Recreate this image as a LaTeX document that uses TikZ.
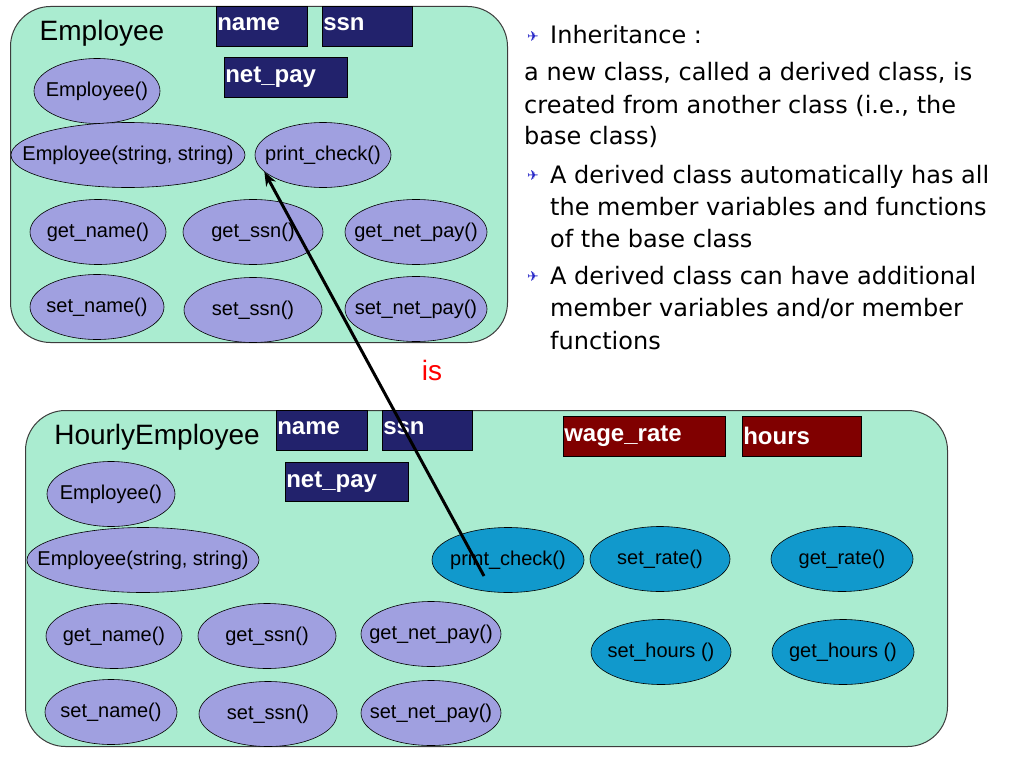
\documentclass[tikz,border=0pt]{standalone}
\usepackage{fontspec}
\setmainfont{Liberation Sans}
\newfontfamily\bodyfont{DejaVu Sans}
\usetikzlibrary{shapes.geometric,calc,arrows.meta}
\definecolor{mint}{RGB}{170,236,208}
\definecolor{lav}{RGB}{160,160,224}
\definecolor{navy}{RGB}{34,34,108}
\definecolor{maroon}{RGB}{128,0,0}
\definecolor{teal}{RGB}{17,153,204}
\definecolor{edge}{RGB}{60,60,60}
\definecolor{bul}{RGB}{40,40,200}
\newcommand{\zw}[1]{\makebox[0pt]{#1}}
\tikzset{
  panel/.style={draw=edge, fill=mint, line width=1pt, rounded corners=40pt, anchor=north west, inner sep=0pt},
  title/.style={font=\fontsize{28}{32}\selectfont, inner sep=0pt},
  field/.style={draw=black, line width=0.6pt, anchor=north west, inner sep=0pt, text=white,
    font=\fontsize{24}{28}\bfseries, align=left},
  navyfield/.style={field, fill=navy},
  redfield/.style={field, fill=maroon},
  meth/.style={ellipse, draw=black, line width=0.6pt, fill=lav, inner sep=0pt,
    font=\fontsize{20}{23}\selectfont, minimum height=65pt},
  tmeth/.style={meth, fill=teal},
  body/.style={anchor=base west, inner sep=0pt, font=\bodyfont\fontsize{24}{28}\selectfont},
  bullet/.style={inner sep=0pt, text=bul, font=\bodyfont\fontsize{14}{16}\selectfont}
}
\begin{document}
\begin{tikzpicture}[x=1pt,y=-1pt]
\useasboundingbox (0,0) rectangle (1024,768);
\fill[white] (0,0) rectangle (1024,768);

% ---------- Employee panel ----------
\node[panel, minimum width=497pt, minimum height=336pt] (emp) at (10,6) {};
\node[title] (empt) at (102,33) {Employee};
\node[navyfield, minimum width=91pt, minimum height=40pt, text width=89pt] (en) at (216,6) {\raisebox{4pt}{name}};
\node[navyfield, minimum width=90pt, minimum height=40pt, text width=88pt] (es) at (322,6) {\raisebox{4pt}{ssn}};
\node[navyfield, minimum width=123pt, minimum height=40pt, text width=121pt] (enp) at (224,57) {\raisebox{4pt}{net\_pay}};

\node[meth, minimum width=126pt] (e1) at (97,91) {\zw{Employee()}};
\node[meth, minimum width=234pt] (e2) at (128,155) {\zw{Employee(string, string)}};
\node[meth, minimum width=136pt] (pc1) at (323,155) {\zw{print\_check()}};
\node[meth, minimum width=136pt] (e3) at (98,232) {\zw{get\_name()}};
\node[meth, minimum width=140pt] (e4) at (253,232) {\zw{get\_ssn()}};
\node[meth, minimum width=142pt] (e5) at (416,232) {\zw{get\_net\_pay()}};
\node[meth, minimum width=134pt] (e6) at (97,307) {\zw{set\_name()}};
\node[meth, minimum width=138pt] (e7) at (253,310) {\zw{set\_ssn()}};
\node[meth, minimum width=142pt] (e8) at (416,309) {\zw{set\_net\_pay()}};

% ---------- is ----------
\node[text=red, inner sep=0pt, font=\fontsize{28}{32}\selectfont] (is) at (432,370) {is};

% ---------- HourlyEmployee panel ----------
\node[panel, minimum width=922pt, minimum height=336pt] (hemp) at (25,410) {};
\node[title] (hempt) at (157,437) {HourlyEmployee};
\node[navyfield, minimum width=91pt, minimum height=40pt, text width=89pt] (hn) at (276,410) {\raisebox{4pt}{name}};
\node[navyfield, minimum width=90pt, minimum height=40pt, text width=88pt] (hs) at (382,410) {\raisebox{4pt}{ssn}};
\node[navyfield, minimum width=123pt, minimum height=39pt, text width=121pt] (hnp) at (285,462) {\raisebox{4pt}{net\_pay}};
\node[redfield, minimum width=162pt, minimum height=40pt, text width=160pt] (hw) at (563,416) {wage\_rate};
\node[redfield, minimum width=119pt, minimum height=40pt, text width=117pt] (hh) at (742,416) {hours};

\node[meth, minimum width=128pt] (h1) at (111,494) {\zw{Employee()}};
\node[meth, minimum width=232pt] (h2) at (143,560) {\zw{Employee(string, string)}};
\node[tmeth, minimum width=152pt] (pc2) at (508,560) {\zw{print\_check()}};
\node[tmeth, minimum width=140pt] (h3) at (660,559) {\zw{set\_rate()}};
\node[tmeth, minimum width=142pt] (h4) at (842,559) {\zw{get\_rate()}};
\node[meth, minimum width=136pt] (h5) at (114,636) {\zw{get\_name()}};
\node[meth, minimum width=138pt] (h6) at (267,636) {\zw{get\_ssn()}};
\node[meth, minimum width=140pt] (h7) at (431,634) {\zw{get\_net\_pay()}};
\node[tmeth, minimum width=140pt] (h8) at (661,652) {\zw{set\_hours ()}};
\node[tmeth, minimum width=142pt] (h9) at (843,652) {\zw{get\_hours ()}};
\node[meth, minimum width=132pt] (h10) at (111,712) {\zw{set\_name()}};
\node[meth, minimum width=138pt] (h11) at (268,714) {\zw{set\_ssn()}};
\node[meth, minimum width=140pt] (h12) at (431,713) {\zw{set\_net\_pay()}};

% ---------- arrow ----------
\coordinate (start) at ($(pc2.center)+(-24,16)$);
\draw[line width=3pt, -{Stealth[length=14pt,width=11pt]}] (start) -- (pc1.196);

% ---------- right text ----------
\node[bullet] (b1) at (533,37) {✈};
\node[body] (t1) at (550,44) {Inheritance :};
\node[body] (t2) at (524,81) {a new class, called a derived class, is};
\node[body] (t3) at (524,113) {created from another class (i.e., the};
\node[body] (t4) at (524,144) {base class)};
\node[bullet] (b2) at (533,176) {✈};
\node[body] (t5) at (550,183) {A derived class automatically has all};
\node[body] (t6) at (550,215) {the member variables and functions};
\node[body] (t7) at (550,247) {of the base class};
\node[bullet] (b3) at (533,277) {✈};
\node[body] (t8) at (550,284) {A derived class can have additional};
\node[body] (t9) at (550,316) {member variables and/or member};
\node[body] (t10) at (550,349) {functions};
\end{tikzpicture}
\end{document}
